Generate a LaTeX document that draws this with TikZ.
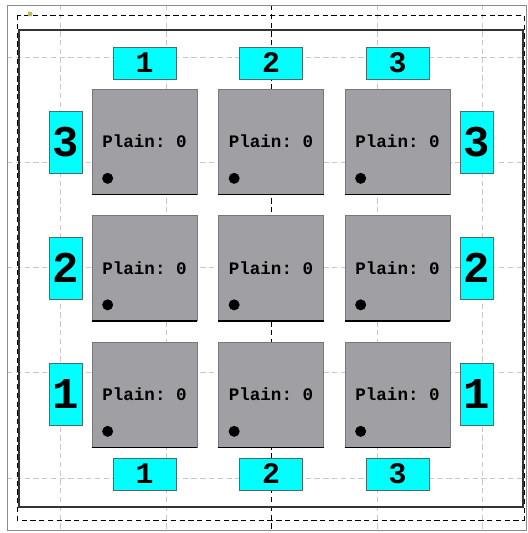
\documentclass[tikz,border=0pt]{standalone}
\usepackage{fontspec}
\setmonofont{Liberation Mono}
\usetikzlibrary{positioning}
\definecolor{boxgray}{RGB}{160,159,163}
\definecolor{boxedge}{RGB}{120,120,124}
\definecolor{labelcyan}{RGB}{0,255,255}
\definecolor{labeledge}{RGB}{70,110,110}
\definecolor{gridgray}{RGB}{200,200,200}
\definecolor{framegray}{RGB}{140,140,140}
\definecolor{olivedot}{RGB}{190,190,80}
\tikzset{
  plainbox/.style={draw=boxedge, fill=boxgray, minimum width=2.1cm, minimum height=2.1cm,
    inner sep=0pt, font=\ttfamily\bfseries\fontsize{10}{12}\selectfont},
  toplabel/.style={draw=labeledge, fill=labelcyan, minimum width=1.26cm, minimum height=0.64cm,
    inner sep=0pt, font=\ttfamily\bfseries\fontsize{17}{20}\selectfont},
  sidelabel/.style={draw=labeledge, fill=labelcyan, minimum width=0.66cm, minimum height=1.24cm,
    inner sep=0pt, font=\ttfamily\bfseries\fontsize{25}{28}\selectfont},
  griddash/.style={densely dashed, gridgray, line width=0.4pt},
}
\begin{document}
\begin{tikzpicture}[x=0.02cm, y=-0.02cm]
\useasboundingbox (0,0) rectangle (527,533);
% grid and frames
\draw[griddash] (60,5) -- (60,530);
\draw[griddash] (166,5) -- (166,530);
\draw[griddash] (377,5) -- (377,530);
\draw[griddash] (482,5) -- (482,530);
\draw[griddash] (7,57) -- (526,57);
\draw[griddash] (7,162) -- (526,162);
\draw[griddash] (7,267) -- (526,267);
\draw[griddash] (7,372) -- (526,372);
\draw[griddash] (7,478) -- (526,478);
\draw[black, densely dashed] (271,5) -- (271,530);
\draw[framegray] (7,5) rectangle (526,530);
\draw[black, densely dashed] (17,15) rectangle (524,520);
\draw[black!80, line width=0.8pt] (19,30) rectangle (523,507);
\fill[olivedot] (30,14) circle[radius=0.05cm];
% boxes
\node[plainbox] (b11) at (144.5,141.5) {Plain: 0};
\node[plainbox] (b12) at (271,141.5) {Plain: 0};
\node[plainbox] (b13) at (397.5,141.5) {Plain: 0};
\node[plainbox] (b21) at (144.5,268) {Plain: 0};
\node[plainbox] (b22) at (271,268) {Plain: 0};
\node[plainbox] (b23) at (397.5,268) {Plain: 0};
\node[plainbox] (b31) at (144.5,394.5) {Plain: 0};
\node[plainbox] (b32) at (271,394.5) {Plain: 0};
\node[plainbox] (b33) at (397.5,394.5) {Plain: 0};
\foreach \b in {b11,b12,b13,b21,b22,b23,b31,b32,b33}{
  \draw[black, line width=0.8pt] (\b.south west) -- (\b.south east);
  \fill[black] (\b.south west) ++(16,-16) circle[radius=0.11cm];
}
% labels
\node[toplabel] (t1) at (144.5,63) {1};
\node[toplabel] (t2) at (271,63) {2};
\node[toplabel] (t3) at (397.5,63) {3};
\node[toplabel] (u1) at (144.5,474) {1};
\node[toplabel] (u2) at (271,474) {2};
\node[toplabel] (u3) at (397.5,474) {3};
\node[sidelabel] (l3) at (65.5,142) {3};
\node[sidelabel] (l2) at (65.5,268) {2};
\node[sidelabel] (l1) at (65.5,394.5) {1};
\node[sidelabel] (r3) at (477,142) {3};
\node[sidelabel] (r2) at (477,268) {2};
\node[sidelabel] (r1) at (477,394.5) {1};
\end{tikzpicture}
\end{document}
